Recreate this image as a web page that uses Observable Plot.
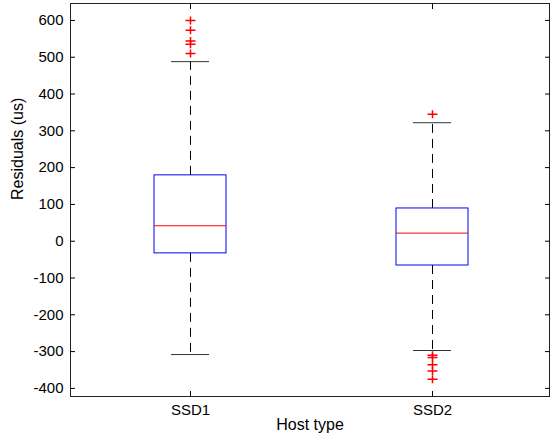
<!DOCTYPE html>
<html><head><meta charset="utf-8">
<script src="https://cdn.jsdelivr.net/npm/d3@7"></script>
<script src="https://cdn.jsdelivr.net/npm/@observablehq/plot@0.6"></script>
<style>body{margin:0;background:#fff}</style>
</head><body><div id="chart"></div>
<script>
const categories = ["SSD1", "SSD2"];
const q1 = [-33, -66];
const medians = [42, 22];
const q3 = [179, 89];
const whiskerLow = [-308, -297];
const whiskerHigh = [488, 322];
const outliersSSD1 = [600, 573, 544, 535, 510];
const outliersSSD2 = [345, -310, -316, -336, -353, -375];
const yTicks = [-400, -300, -200, -100, 0, 100, 200, 300, 400, 500, 600];
const xLabel = "Host type";
const yLabel = "Residuals (us)";

const boxes = categories.map((c, i) => ({cat: c, q1: q1[i], med: medians[i], q3: q3[i], lo: whiskerLow[i], hi: whiskerHigh[i]}));
const outliers = [
  ...outliersSSD1.map(v => ({cat: "SSD1", v})),
  ...outliersSSD2.map(v => ({cat: "SSD2", v}))
];
const plus = {draw(ctx) { ctx.moveTo(-5, 0); ctx.lineTo(5, 0); ctx.moveTo(0, -4); ctx.lineTo(0, 4); }};

const chart = Plot.plot({
  width: 551, height: 438,
  marginLeft: 70, marginRight: 2, marginTop: 3, marginBottom: 42,
  style: {fontFamily: "'Liberation Sans', Arial, sans-serif", fontSize: "15px", color: "black", background: "white"},
  x: {domain: categories, paddingInner: 0.7025, paddingOuter: 0.339, align: 0.512},
  y: {domain: [-422, 646]},
  marks: [
    Plot.ruleX(boxes, {x: "cat", y1: "q3", y2: "hi", stroke: "black", strokeDasharray: "9,6"}),
    Plot.ruleX(boxes, {x: "cat", y1: "q1", y2: "lo", stroke: "black", strokeDasharray: "9,6"}),
    Plot.tickY(boxes, {x: "cat", y: "hi", insetLeft: 17, insetRight: 17, stroke: "#333"}),
    Plot.tickY(boxes, {x: "cat", y: "lo", insetLeft: 17, insetRight: 17, stroke: "#333"}),
    Plot.barY(boxes, {x: "cat", y1: "q1", y2: "q3", fill: "none", stroke: "blue"}),
    Plot.tickY(boxes, {x: "cat", y: "med", stroke: "red"}),
    Plot.dot(outliers, {x: "cat", y: "v", symbol: plus, stroke: "red", fill: "none", r: 4}),
    Plot.frame({stroke: "#222"}),
    Plot.axisY({anchor: "left", ticks: yTicks, tickSize: -5, tickPadding: 12, tickFormat: d => String(d), label: null}),
    Plot.axisY({anchor: "right", ticks: yTicks, tickSize: -5, tickFormat: () => "", label: null}),
    Plot.axisX({anchor: "bottom", tickSize: -5, tickPadding: 13, label: null}),
    Plot.axisX({anchor: "top", tickSize: -5, tickFormat: () => "", label: null}),
    Plot.text([xLabel], {text: d => d, frameAnchor: "bottom", dy: 33, fontSize: 16}),
    Plot.text([yLabel], {text: d => d, frameAnchor: "left", rotate: -90, dx: -53, fontSize: 16})
  ]
});
document.getElementById("chart").appendChild(chart);
</script>
</body></html>
